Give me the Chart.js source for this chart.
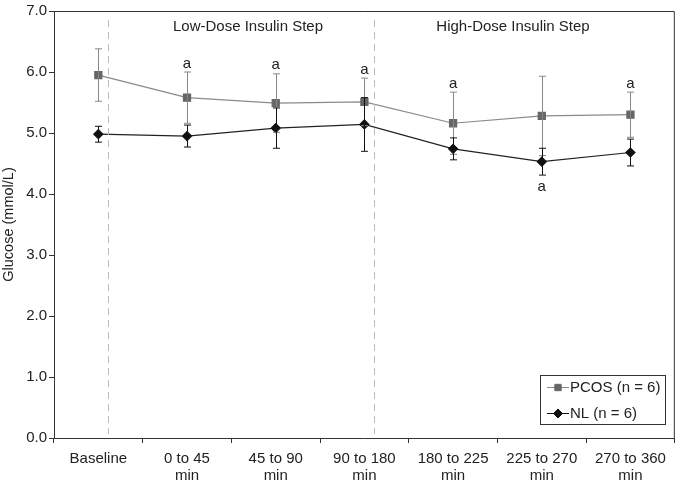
<!DOCTYPE html>
<html>
<head>
<meta charset="utf-8">
<script src="https://cdn.jsdelivr.net/npm/chart.js@4.4.0/dist/chart.umd.min.js"></script>
<style>
  html, body { margin: 0; padding: 0; background: #fff; }
  #wrap { width: 681px; height: 487px; }
</style>
</head>
<body>
<div id="wrap"><canvas id="glucoseChart" width="681" height="487"></canvas></div>
<script>
// data
const periods = [['Baseline'], ['0 to 45', 'min'], ['45 to 90', 'min'], ['90 to 180', 'min'],
                 ['180 to 225', 'min'], ['225 to 270', 'min'], ['270 to 360', 'min']];
const pcosMean = [5.95, 5.58, 5.49, 5.51, 5.16, 5.28, 5.30];
const pcosErr  = [0.43, 0.42, 0.48, 0.39, 0.51, 0.65, 0.37];
const nlMean   = [4.98, 4.95, 5.08, 5.14, 4.74, 4.53, 4.68];
const nlErr    = [0.13, 0.18, 0.33, 0.44, 0.18, 0.22, 0.22];
// 'a' marks: above PCOS / below NL
const pcosSig  = [false, true, true, true, true, false, true];
const nlSig    = [false, false, false, false, false, true, false];
const steps = [
    { label: 'Low-Dose Insulin Step', from: 0.11 },
    { label: 'High-Dose Insulin Step', from: 3.11 }
];
const yTicks = [0, 1, 2, 3, 4, 5, 6, 7];

const FONT = '"Liberation Sans", Arial, sans-serif';

const errorBars = {
    id: 'errorBars',
    afterDatasetsDraw(chart) {
        const ctx = chart.ctx;
        const x = chart.scales.x, y = chart.scales.y;
        const area = chart.chartArea;

        // frame top/right
        ctx.save();
        ctx.strokeStyle = '#333';
        ctx.lineWidth = 1;
        ctx.beginPath();
        ctx.moveTo(area.left, area.top + 0.5);
        ctx.lineTo(area.right - 0.5, area.top + 0.5);
        ctx.lineTo(area.right - 0.5, area.bottom);
        ctx.stroke();

        // dashed step separators
        ctx.strokeStyle = '#bbb';
        ctx.setLineDash([7, 5]);
        steps.forEach(s => {
            const px = Math.round(x.getPixelForValue(s.from)) + 0.5;
            ctx.beginPath();
            ctx.moveTo(px, area.top + 9);
            ctx.lineTo(px, area.bottom - 4);
            ctx.stroke();
        });
        ctx.setLineDash([]);

        // step headings
        ctx.fillStyle = '#222';
        ctx.font = '15px ' + FONT;
        ctx.textAlign = 'center';
        ctx.textBaseline = 'middle';
        ctx.fillText(steps[0].label, 248, area.top + 16);
        ctx.fillText(steps[1].label, 513, area.top + 16);

        const sets = [
            { mean: pcosMean, err: pcosErr, color: '#888' },
            { mean: nlMean, err: nlErr, color: '#111' }
        ];
        sets.forEach(s => {
            ctx.strokeStyle = s.color;
            s.mean.forEach((m, i) => {
                const px = Math.round(x.getPixelForValue(i)) + 0.5;
                const top = y.getPixelForValue(m + s.err[i]);
                const bot = y.getPixelForValue(m - s.err[i]);
                ctx.beginPath();
                ctx.moveTo(px, top); ctx.lineTo(px, bot);
                ctx.moveTo(px - 3.5, top); ctx.lineTo(px + 3.5, top);
                ctx.moveTo(px - 3.5, bot); ctx.lineTo(px + 3.5, bot);
                ctx.stroke();
            });
        });

        // significance letters
        ctx.fillStyle = '#222';
        ctx.font = '15px ' + FONT;
        pcosSig.forEach((on, i) => {
            if (!on) return;
            ctx.textBaseline = 'bottom';
            ctx.fillText('a', x.getPixelForValue(i), y.getPixelForValue(pcosMean[i] + pcosErr[i]) - 1);
        });
        nlSig.forEach((on, i) => {
            if (!on) return;
            ctx.textBaseline = 'top';
            ctx.fillText('a', x.getPixelForValue(i), y.getPixelForValue(nlMean[i] - nlErr[i]) + 4);
        });

        // legend box
        const lx = 540, ly = 375, lw = 125, lh = 49;
        ctx.fillStyle = '#fff';
        ctx.fillRect(lx, ly, lw, lh);
        ctx.strokeStyle = '#333';
        ctx.strokeRect(lx + 0.5, ly + 0.5, lw, lh);
        const items = [
            { text: 'PCOS (n = 6)', line: '#888', fill: '#666', style: 'rect', r: 4.5, yy: ly + 12 },
            { text: 'NL (n = 6)', line: '#111', fill: '#111', style: 'rectRot', r: 4.5, yy: ly + 38 }
        ];
        items.forEach(it => {
            ctx.strokeStyle = it.line;
            ctx.beginPath();
            ctx.moveTo(lx + 7, it.yy + 0.5);
            ctx.lineTo(lx + 29, it.yy + 0.5);
            ctx.stroke();
            ctx.fillStyle = it.fill;
            ctx.strokeStyle = it.fill;
            Chart.helpers.drawPoint(ctx, { pointStyle: it.style, radius: it.r, borderWidth: 1 }, lx + 18, it.yy + 0.5);
            ctx.fillStyle = '#222';
            ctx.textAlign = 'left';
            ctx.textBaseline = 'middle';
            ctx.fillText(it.text, lx + 30, it.yy + 1);
        });
        ctx.restore();
    }
};

const ctx = document.getElementById('glucoseChart').getContext('2d');
new Chart(ctx, {
    type: 'line',
    data: {
        labels: periods,
        datasets: [{
            label: 'PCOS (n = 6)',
            data: pcosMean,
            borderColor: '#8a8a8a',
            borderWidth: 1.2,
            pointStyle: 'rect',
            pointRadius: 5,
            pointBackgroundColor: '#666',
            pointBorderColor: '#666',
            fill: false,
            tension: 0
        }, {
            label: 'NL (n = 6)',
            data: nlMean,
            borderColor: '#222',
            borderWidth: 1.2,
            pointStyle: 'rectRot',
            pointRadius: 4.5,
            pointBackgroundColor: '#111',
            pointBorderColor: '#111',
            fill: false,
            tension: 0
        }]
    },
    options: {
        responsive: false,
        animation: false,
        layout: { padding: { left: 0, right: 4, top: 9, bottom: 0 } },
        plugins: {
            legend: { display: false },
            tooltip: { enabled: false }
        },
        scales: {
            x: {
                offset: true,
                grid: { display: true, drawOnChartArea: false, offset: true, tickLength: 5, color: '#333' },
                border: { color: '#333', width: 1 },
                ticks: {
                    color: '#222',
                    font: { family: FONT, size: 15, lineHeight: 1.15 },
                    padding: 7,
                    maxRotation: 0,
                    autoSkip: false
                },
                afterFit(scale) { scale.height = 49; }
            },
            y: {
                min: 0,
                max: 7,
                afterBuildTicks(scale) { scale.ticks = yTicks.map(v => ({ value: v })); },
                grid: { display: true, drawOnChartArea: false, tickLength: 5, color: '#333' },
                border: { color: '#333', width: 1 },
                ticks: {
                    color: '#222',
                    font: { family: FONT, size: 15 },
                    padding: 2,
                    callback: v => Number(v).toFixed(1)
                },
                title: {
                    display: true,
                    text: 'Glucose (mmol/L)',
                    color: '#222',
                    font: { family: FONT, size: 14.5 },
                    padding: { top: 0, bottom: 0 }
                },
                afterFit(scale) { scale.width = 54; }
            }
        }
    },
    plugins: [errorBars]
});
</script>
</body>
</html>
